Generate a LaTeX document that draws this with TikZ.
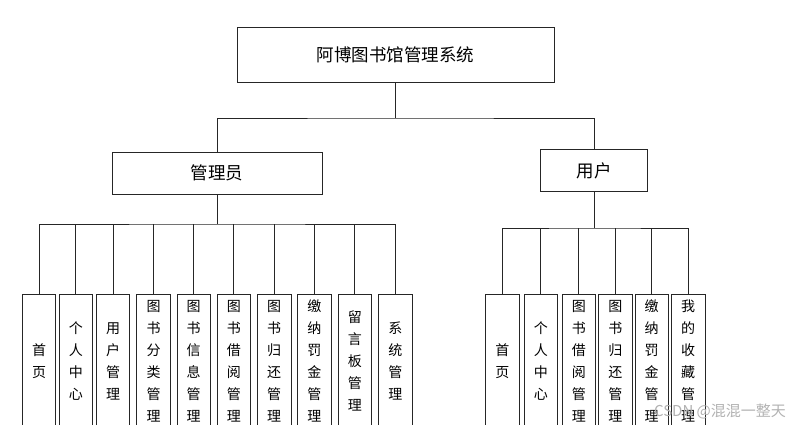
\documentclass[tikz,border=0pt]{standalone}
\usepackage{fontspec}
\setmainfont{Noto Sans CJK SC}
\usepackage{xcolor}
\usepackage{tikz}

\tikzset{
  box/.style={draw=black!85, line width=0.8pt, fill=white, inner sep=2pt},
  topbox/.style={box, minimum width=317pt, minimum height=55pt, font=\fontsize{17.5}{20}\selectfont},
  rolebox/.style={box, minimum height=42pt, font=\fontsize{17.5}{20}\selectfont},
  leaf/.style={box, anchor=north, minimum width=33.5pt, minimum height=134pt,
    align=center, font=\fontsize{14}{22}\selectfont},
  wire/.style={draw=black!85, line width=0.8pt}
}

\begin{document}
\begin{tikzpicture}[x=1pt, y=-1pt]
\useasboundingbox (0,0) rectangle (788,425);
\clip (0,0) rectangle (788,425);

% top levels
\node[topbox] (root) at (395.5, 54.5) {阿博图书馆管理系统};
\node[rolebox, minimum width=210pt] (admin) at (217, 173) {管理员};
\node[rolebox, minimum width=107pt] (user) at (594.3, 170.5) {用户};

% admin leaves
\node[leaf] (a1) at (39.0, 294) {首\\页};
\node[leaf] (a2) at (75.8, 294) {个\\人\\中\\心};
\node[leaf] (a3) at (113.0, 294) {用\\户\\管\\理};
\node[leaf] (a4) at (153.5, 294) {图\\书\\分\\类\\管\\理};
\node[leaf] (a5) at (193.7, 294) {图\\书\\信\\息\\管\\理};
\node[leaf] (a6) at (233.8, 294) {图\\书\\借\\阅\\管\\理};
\node[leaf] (a7) at (274.2, 294) {图\\书\\归\\还\\管\\理};
\node[leaf] (a8) at (314.3, 294) {缴\\纳\\罚\\金\\管\\理};
\node[leaf] (a9) at (354.8, 294) {留\\言\\板\\管\\理};
\node[leaf] (a10) at (395.3, 294) {系\\统\\管\\理};

% user leaves
\node[leaf] (u1) at (502.3, 294) {首\\页};
\node[leaf] (u2) at (540.8, 294) {个\\人\\中\\心};
\node[leaf] (u3) at (578.8, 294) {图\\书\\借\\阅\\管\\理};
\node[leaf] (u4) at (615.3, 294) {图\\书\\归\\还\\管\\理};
\node[leaf] (u5) at (651.7, 294) {缴\\纳\\罚\\金\\管\\理};
\node[leaf] (u6) at (688.2, 294) {我\\的\\收\\藏\\管\\理};

% joints
\coordinate (j0) at (395.5, 118);
\coordinate (ja) at (217, 224);
\coordinate (ju) at (594.3, 228);

\draw[wire] (root) -- (j0);
\draw[wire] (admin.north) |- (j0) -| (user.north);

\draw[wire] (admin) -- (ja);
\draw[wire] (a1.north) |- (ja) -| (a10.north);
\draw[wire] (a2.north) -- (a2.north |- ja);
\draw[wire] (a3.north) -- (a3.north |- ja);
\draw[wire] (a4.north) -- (a4.north |- ja);
\draw[wire] (a5.north) -- (a5.north |- ja);
\draw[wire] (a6.north) -- (a6.north |- ja);
\draw[wire] (a7.north) -- (a7.north |- ja);
\draw[wire] (a8.north) -- (a8.north |- ja);
\draw[wire] (a9.north) -- (a9.north |- ja);

\draw[wire] (user) -- (ju);
\draw[wire] (u1.north) |- (ju) -| (u6.north);
\draw[wire] (u2.north) -- (u2.north |- ju);
\draw[wire] (u3.north) -- (u3.north |- ju);
\draw[wire] (u4.north) -- (u4.north |- ju);
\draw[wire] (u5.north) -- (u5.north |- ju);

% watermark
\node[text=black!30, font=\fontsize{15}{18}\selectfont] (mark) at (720, 411) {CSDN @混混一整天};
\end{tikzpicture}
\end{document}
